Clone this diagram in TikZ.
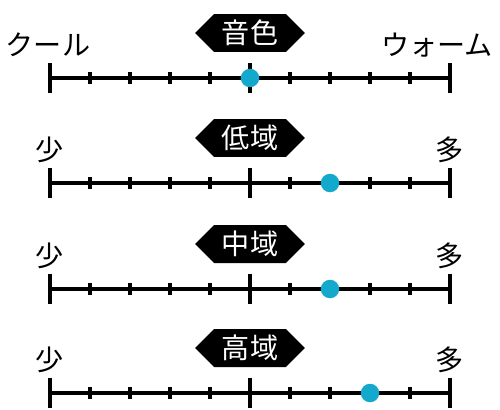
\documentclass[tikz,border=0pt]{standalone}
\usepackage{fontspec}
\setmainfont{Noto Sans CJK JP}
\usepackage{xcolor}
\usepackage{tikz}
\usetikzlibrary{shapes.symbols,positioning}
\definecolor{knobblue}{HTML}{12A9CC}
\tikzset{
  scaleline/.style={line width=1.9pt},
  ticksmall/.style={line width=1.9pt},
  tickbig/.style={line width=2.1pt},
  bandtag/.style={signal, signal to=west and east, fill=black, text=white, minimum width=2.2cm, minimum height=0.76cm, inner sep=0pt, font=\fontsize{16}{18}\selectfont},
  endlabel/.style={inner sep=0pt, font=\fontsize{16}{18}\selectfont},
  knobdot/.style={circle, fill=knobblue, minimum size=0.37cm, inner sep=0pt}
}

\begin{document}
\begin{tikzpicture}[x=0.02cm, y=-0.02cm]
\useasboundingbox (0,0) rectangle (500,409);
% one row per scale: name, line height, ends, knob position
\foreach \i/\y/\tag/\lo/\xlo/\hi/\xhi/\pos in {
  1/78/音色/クール/48/ウォーム/437/250,
  2/183/低域/少/50/多/450/330,
  3/289/中域/少/50/多/450/330,
  4/393/高域/少/50/多/450/370}{
  \coordinate (l\i) at (50,\y);
  \coordinate (r\i) at (450,\y);
  \draw[scaleline] (l\i) -- (r\i);
  \foreach \k in {1,2,3,4,6,7,8,9}
    \draw[ticksmall] (50+40*\k,\y-6) -- (50+40*\k,\y+6);
  \foreach \k in {0,5,10}
    \draw[tickbig] (50+40*\k,\y-15) -- (50+40*\k,\y+15);
  \node[bandtag] (tag\i) at (250,\y-45) {\tag};
  \node[endlabel] (lo\i) at (\xlo,\y-33) {\lo};
  \node[endlabel] (hi\i) at (\xhi,\y-33) {\hi};
  \node[knobdot] (knob\i) at (\pos,\y) {};
}
\end{tikzpicture}
\end{document}
